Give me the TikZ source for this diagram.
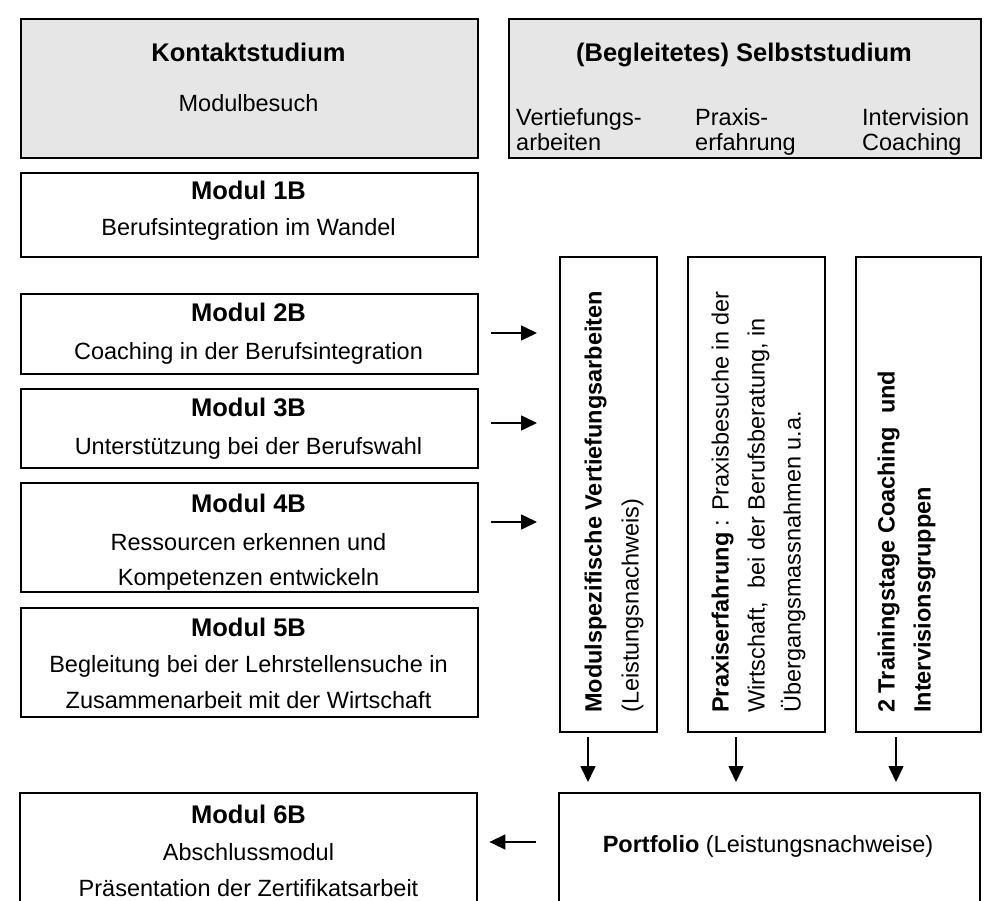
\documentclass[tikz,border=0pt]{standalone}
\usepackage{fontspec}
\setmainfont{Liberation Sans}
\usetikzlibrary{arrows.meta,calc}
\definecolor{boxgray}{RGB}{230,230,230}
\begin{document}
\begin{tikzpicture}[x=1pt,y=-1pt,
  box/.style={draw, line width=2pt, inner sep=0pt, anchor=north west},
  graybox/.style={box, fill=boxgray},
  openbox/.style={inner sep=0pt, anchor=north west},
  txt/.style={inner sep=0pt, font=\fontsize{23.5}{26}\selectfont, text height=17pt, text depth=0pt},
  ttl/.style={inner sep=0pt, font=\fontsize{25.5}{28}\selectfont\bfseries, text height=18pt, text depth=0pt},
  vtxt/.style={txt, rotate=90, anchor=west},
  arr/.style={line width=1.6pt, -{Triangle[length=16pt,width=15pt]}}]
\useasboundingbox (0,0) rectangle (991,901);
% top boxes
\node[graybox, minimum width=457pt, minimum height=139pt] (kontakt) at (20,18) {};
\node[graybox, minimum width=472pt, minimum height=139pt] (selbst) at (508,18) {};
\node[ttl] (kt) at (248.5,53) {Kontaktstudium};
\node[txt] (ks) at (248.5,103) {Modulbesuch};
\node[ttl] (st) at (744,53) {(Begleitetes) Selbststudium};
\node[txt, anchor=west] (s1a) at (516,117) {Vertiefungs-};
\node[txt, anchor=west] (s1b) at (516,142) {arbeiten};
\node[txt, anchor=west] (s2a) at (695,117) {Praxis-};
\node[txt, anchor=west] (s2b) at (695,142) {erfahrung};
\node[txt, anchor=west] (s3a) at (862,117) {Intervision};
\node[txt, anchor=west] (s3b) at (862,142) {Coaching};
% module boxes
\node[box, minimum width=457pt, minimum height=84pt] (m1) at (20,172) {};
\node[ttl] (m1t) at (248.5,191) {Modul 1B};
\node[txt] (m1a) at (248.5,227) {Berufsintegration im Wandel};
\node[box, minimum width=457pt, minimum height=80pt] (m2) at (20,293) {};
\node[ttl] (m2t) at (248.5,313) {Modul 2B};
\node[txt] (m2a) at (248.5,351) {Coaching in der Berufsintegration};
\node[box, minimum width=457pt, minimum height=79pt] (m3) at (20,388) {};
\node[ttl] (m3t) at (248.5,408) {Modul 3B};
\node[txt] (m3a) at (248.5,446) {Unterstützung bei der Berufswahl};
\node[box, minimum width=457pt, minimum height=109pt] (m4) at (20,482) {};
\node[ttl] (m4t) at (248.5,503) {Modul 4B};
\node[txt] (m4a) at (248.5,542) {Ressourcen erkennen und};
\node[txt] (m4b) at (248.5,577) {Kompetenzen entwickeln};
\node[box, minimum width=457pt, minimum height=109pt] (m5) at (20,607) {};
\node[ttl] (m5t) at (248.5,627) {Modul 5B};
\node[txt] (m5a) at (248.5,664) {Begleitung bei der Lehrstellensuche in};
\node[txt] (m5b) at (248.5,700) {Zusammenarbeit mit der Wirtschaft};
% vertical boxes
\node[box, minimum width=97pt, minimum height=475pt] (v1) at (559,256) {};
\node[box, minimum width=137pt, minimum height=475pt] (v2) at (687,256) {};
\node[box, minimum width=125pt, minimum height=475pt] (v3) at (855,256) {};
\node[vtxt] (v1a) at (593,713) {\bfseries Modulspezifische Vertiefungsarbeiten};
\node[vtxt] (v1b) at (630,713) {(Leistungsnachweis)};
\node[vtxt] (v2a) at (720,713) {\textbf{Praxiserfahrung} : Praxisbesuche in der};
\node[vtxt] (v2b) at (756,713) {Wirtschaft,~ bei der Berufsberatung, in};
\node[vtxt] (v2c) at (792,713) {Übergangsmassnahmen u.a.};
\node[vtxt] (v3a) at (886,713) {\bfseries 2 Trainingstage Coaching~ und};
\node[vtxt] (v3b) at (922,713) {\bfseries Intervisionsgruppen};
% bottom boxes (cut at page bottom)
\node[openbox, minimum width=457pt, minimum height=108pt] (m6) at (20,793) {};
\node[openbox, minimum width=421pt, minimum height=108pt] (pf) at (559,793) {};
\draw[line width=2pt] (m6.south west) -- (m6.north west) -- (m6.north east) -- (m6.south east);
\draw[line width=2pt] (pf.south west) -- (pf.north west) -- (pf.north east) -- (pf.south east);
\node[ttl] (m6t) at (248.5,814) {Modul 6B};
\node[txt] (m6a) at (248.5,852) {Abschlussmodul};
\node[txt] (m6b) at (248.5,888) {Präsentation der Zertifikatsarbeit};
\node[txt] (pft) at (768,844) {\textbf{Portfolio} (Leistungsnachweise)};
% arrows
\draw[arr] ($(m2.east)+(12,-1)$) -- ($(v1.west |- m2.east)+(-22,-1)$);
\draw[arr] ($(m3.east)+(12,-5.5)$) -- ($(v1.west |- m3.east)+(-22,-5.5)$);
\draw[arr] ($(m4.east)+(12,-15.5)$) -- ($(v1.west |- m4.east)+(-22,-15.5)$);
\draw[arr] ($(v1.south)+(-20.5,4)$) -- ($(v1.south |- pf.north)+(-20.5,-11)$);
\draw[arr] ($(v2.south)+(-20.5,4)$) -- ($(v2.south |- pf.north)+(-20.5,-11)$);
\draw[arr] ($(v3.south)+(-22.5,4)$) -- ($(v3.south |- pf.north)+(-22.5,-11)$);
\draw[arr] ($(pf.north west)+(-23,49)$) -- ($(m6.north east)+(12,49)$);
\end{tikzpicture}
\end{document}
